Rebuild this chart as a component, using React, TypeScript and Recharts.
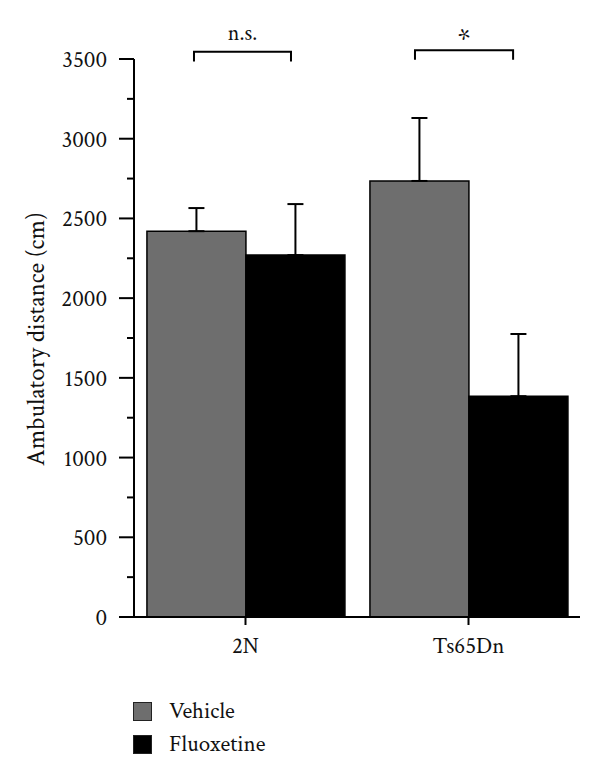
import React from 'react';
import { BarChart, Bar, XAxis, YAxis, ErrorBar, Legend, ReferenceArea } from 'recharts';

const FONT = '"Crimson Text", "Liberation Serif"';

const categories = ['2N', 'Ts65Dn'];
const vehicleMean = [2420, 2735];
const vehicleSem = [145, 395];
const fluoxetineMean = [2270, 1385];
const fluoxetineSem = [320, 390];
const yTicks = [0, 250, 500, 750, 1000, 1250, 1500, 1750, 2000, 2250, 2500, 2750, 3000, 3250, 3500];
const seriesNames = ['Vehicle', 'Fluoxetine'];
const seriesColors = ['#6e6e6e', '#000000'];
const yLabel = 'Ambulatory distance (cm)';

// significance brackets: horizontal extent in category units (0..2 across the plot), vertical in data units
const brackets = [
  { text: 'n.s.', from: 0.269, to: 0.704, top: 3545, bottom: 3485, size: 22, gap: 12 },
  { text: '*', from: 1.26, to: 1.70, top: 3555, bottom: 3495, size: 30, gap: 1 },
];

const data = categories.map((c, i) => ({
  group: c,
  vehicle: vehicleMean[i],
  vehicleErr: [0, vehicleSem[i]],
  fluoxetine: fluoxetineMean[i],
  fluoxetineErr: [0, fluoxetineSem[i]],
}));

const YTick = (props: any) => {
  const { x, y, payload } = props;
  const major = payload.value % 500 === 0;
  return (
    <g>
      <line x1={x - (major ? 15 : 7)} x2={x} y1={y} y2={y} stroke="#000" strokeWidth={2} />
      {major && (
        <text x={x - 27} y={y} dy="0.35em" textAnchor="end" style={{ fontFamily: FONT }} fontSize={23} fill="#111">
          {payload.value}
        </text>
      )}
    </g>
  );
};

const YLabel = (props: any) => {
  const vb = props.viewBox || {};
  const cx = (vb.x || 0) + 44;
  const cy = (vb.y || 0) + (vb.height || 0) / 2 + 1;
  return (
    <text x={cx} y={cy} transform={`rotate(-90, ${cx}, ${cy})`} textAnchor="middle" style={{ fontFamily: FONT }} fontSize={25} fill="#111">
      {yLabel}
    </text>
  );
};

const XTick = (props: any) => {
  const { x, y, payload } = props;
  return (
    <text x={x} y={y} dy="0.71em" textAnchor="middle" style={{ fontFamily: FONT }} fontSize={23} fill="#111">
      {payload.value}
    </text>
  );
};

const makeBracket = (b: any) => (props: any) => {
  const { x, y, width, height } = props;
  const n = categories.length;
  const xa = x + (width * b.from) / n;
  const xb = x + (width * b.to) / n;
  const yt = y;
  const yb = y + height;
  return (
    <g>
      <path d={`M${xa},${yb} L${xa},${yt} L${xb},${yt} L${xb},${yb}`} fill="none" stroke="#000" strokeWidth={2} />
      <text x={(xa + xb) / 2} y={yt - b.gap} textAnchor="middle" style={{ fontFamily: FONT }} fontSize={b.size} fill="#111">
        {b.text}
      </text>
    </g>
  );
};

const LegendContent = (props: any) => {
  const items = [...(props.payload || [])].sort(
    (a: any, b: any) => seriesNames.indexOf(a.value) - seriesNames.indexOf(b.value)
  );
  return (
    <div style={{ position: 'relative', width: 300, height: 100, fontFamily: FONT, fontSize: 23, color: '#111' }}>
      {items.map((it: any, i: number) => (
        <div key={i} style={{ position: 'absolute', left: 0, top: 23 + i * 33, height: 19, display: 'flex', alignItems: 'center' }}>
          <div style={{ width: 17, height: 17, background: it.color, border: '1px solid #222' }} />
          <span style={{ marginLeft: 17, lineHeight: '19px' }}>{it.value}</span>
        </div>
      ))}
    </div>
  );
};

export default function App() {
  return (
    <div style={{ position: 'absolute', left: 0, top: 0, width: 600, height: 779, background: '#fff' }}>
      <BarChart
        width={600}
        height={779}
        data={data}
        margin={{ top: 59, right: 20, bottom: 0, left: 0 }}
        barCategoryGap="5.8%"
        barGap={0}
      >
        <XAxis
          dataKey="group"
          axisLine={{ stroke: '#000', strokeWidth: 2 }}
          tickLine={{ stroke: '#000', strokeWidth: 2 }}
          tickSize={8}
          tickMargin={12}
          height={62}
          tick={<XTick />}
        />
        <YAxis
          width={134}
          domain={[0, 3500]}
          ticks={yTicks}
          interval={0}
          axisLine={{ stroke: '#000', strokeWidth: 2 }}
          tickLine={false}
          tickSize={0}
          tickMargin={0}
          tick={<YTick />}
          label={{ content: <YLabel /> }}
        />
        <Legend
          verticalAlign="bottom"
          layout="vertical"
          align="center"
          content={<LegendContent />}
          wrapperStyle={{ left: 133, top: 679, bottom: 'auto', width: 300 }}
        />
        <Bar dataKey="vehicle" name={seriesNames[0]} fill={seriesColors[0]} stroke="#000" strokeWidth={1.5} isAnimationActive={false}>
          <ErrorBar dataKey="vehicleErr" direction="y" width={8} stroke="#000" strokeWidth={2} isAnimationActive={false} />
        </Bar>
        <Bar dataKey="fluoxetine" name={seriesNames[1]} fill={seriesColors[1]} stroke="#000" strokeWidth={1.5} isAnimationActive={false}>
          <ErrorBar dataKey="fluoxetineErr" direction="y" width={8} stroke="#000" strokeWidth={2} isAnimationActive={false} />
        </Bar>
        {brackets.map((b, i) => (
          <ReferenceArea
            key={`br${i}`}
            y1={b.bottom}
            y2={b.top}
            ifOverflow="visible"
            shape={makeBracket(b)}
          />
        ))}
      </BarChart>
    </div>
  );
}
